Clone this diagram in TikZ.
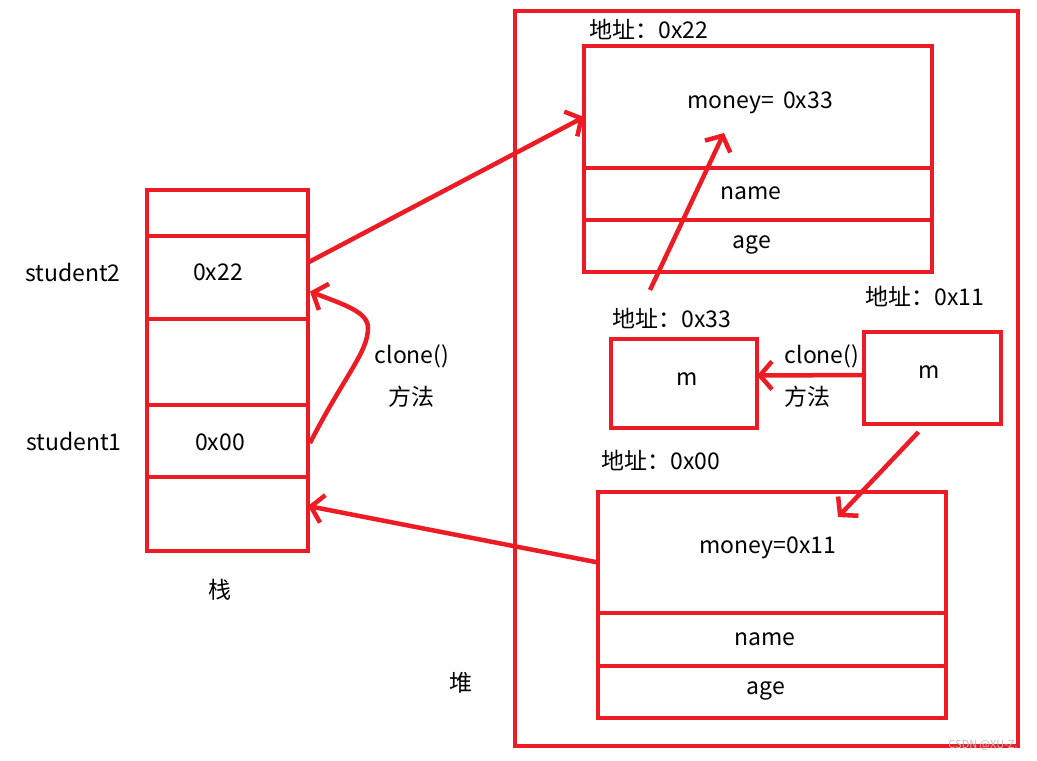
\documentclass[tikz,border=0pt]{standalone}
\usepackage{fontspec}
\setmainfont{Noto Sans CJK SC}
\usetikzlibrary{arrows.meta,calc}
\definecolor{pred}{RGB}{237,28,36}
\tikzset{
  cell/.style={draw=pred,line width=4.5pt,rectangle,inner sep=0pt,outer sep=0pt},
  txt/.style={font=\fontsize{23}{26}\selectfont,inner sep=0pt,text=black},
  conn/.style={draw=pred,line width=4.5pt,-{Straight Barb[length=12pt,width=28pt,line width=4.5pt]}}
}
\begin{document}
\begin{tikzpicture}[x=1pt,y=-1pt]
\useasboundingbox (0,0) rectangle (1037,761);
\fill[white] (0,0) rectangle (1037,761);
% stack
\node[cell,minimum width=161pt,minimum height=46pt] (s0) at (227.5,213) {};
\node[cell,minimum width=161pt,minimum height=83pt] (s2) at (227.5,277.5) {};
\node[cell,minimum width=161pt,minimum height=86pt] (s3) at (227.5,362) {};
\node[cell,minimum width=161pt,minimum height=72pt] (s1) at (227.5,441) {};
\node[cell,minimum width=161pt,minimum height=74pt] (s4) at (227.5,514) {};
\node[txt] (v22) at (218,272) {0x22};
\node[txt] (v00) at (220,442) {0x00};
\node[txt] (lst2) at (73,272) {student2};
\node[txt] (lst1) at (74,441) {student1};
\node[txt] (zhan) at (220,590) {栈};
\node[txt] (cl1) at (412,356) {clone()};
\node[txt] (ff1) at (411,397) {方法};
% heap
\node[cell,minimum width=503pt,minimum height=735pt] (heap) at (766.5,378.5) {};
\node[txt] (dui) at (461,683) {堆};
% object 0x22
\node[txt] (a22) at (649,29) {地址：0x22};
\node[cell,minimum width=348pt,minimum height=122pt] (tm) at (758,107) {};
\node[cell,minimum width=348pt,minimum height=52pt] (tn) at (758,194) {};
\node[cell,minimum width=348pt,minimum height=52pt] (ta) at (758,246) {};
\node[txt] (tmt) at (760,103) {money=\hspace{0.4em}0x33};
\node[txt] (tnt) at (751,193) {name};
\node[txt] (tat) at (752,245) {age};
% m objects
\node[txt] (a33) at (672,318) {地址：0x33};
\node[cell,minimum width=146pt,minimum height=89pt] (m33) at (684,383.5) {};
\node[txt] (m33t) at (687,379) {m};
\node[txt] (a11) at (925,296) {地址：0x11};
\node[cell,minimum width=137pt,minimum height=92pt] (m11) at (932.5,378) {};
\node[txt] (m11t) at (929,372) {m};
\node[txt] (cl2) at (822,356) {clone()};
\node[txt] (ff2) at (807,397) {方法};
% object 0x00
\node[txt] (a00) at (661,460) {地址：0x00};
\node[cell,minimum width=348pt,minimum height=121pt] (bm) at (772,552.5) {};
\node[cell,minimum width=348pt,minimum height=53pt] (bn) at (772,639.5) {};
\node[txt] (bmt) at (768,548) {money=0x11};
\node[cell,minimum width=348pt,minimum height=52pt] (ba) at (772,692) {};
\node[txt] (bnt) at (765,639) {name};
\node[txt] (bat) at (766,691) {age};
% connectors
\draw[conn] ($(s2.east)+(0,-15)$) -- ($(tm.west)+(0,10)$);
\draw[conn] ($(m33.north)+(-34,-49)$) -- ($(tm.center)+(-34,26)$);
\draw[conn] ($(m11.south)+(-14,8)$) -- ($(bm.north)+(66,25)$);
\draw[conn] ($(bm.west)+(0,10)$) -- ($(s4.east)+(0,-8)$);
\draw[conn] ($(m11.west)+(2,-3)$) -- ($(m33.east)+(0,-8)$);
\draw[conn] ($(s1.east)+(2,2)$) .. controls (345,375) and (368,352) .. (368,328) .. controls (368,312) and (345,305) .. ($(s2.east)+(2,14)$);
% watermark
\node[font=\fontsize{11}{13}\selectfont,text=black!25,inner sep=0pt] (wm) at (983,745) {CSDN @XU-Z.};
\end{tikzpicture}
\end{document}
